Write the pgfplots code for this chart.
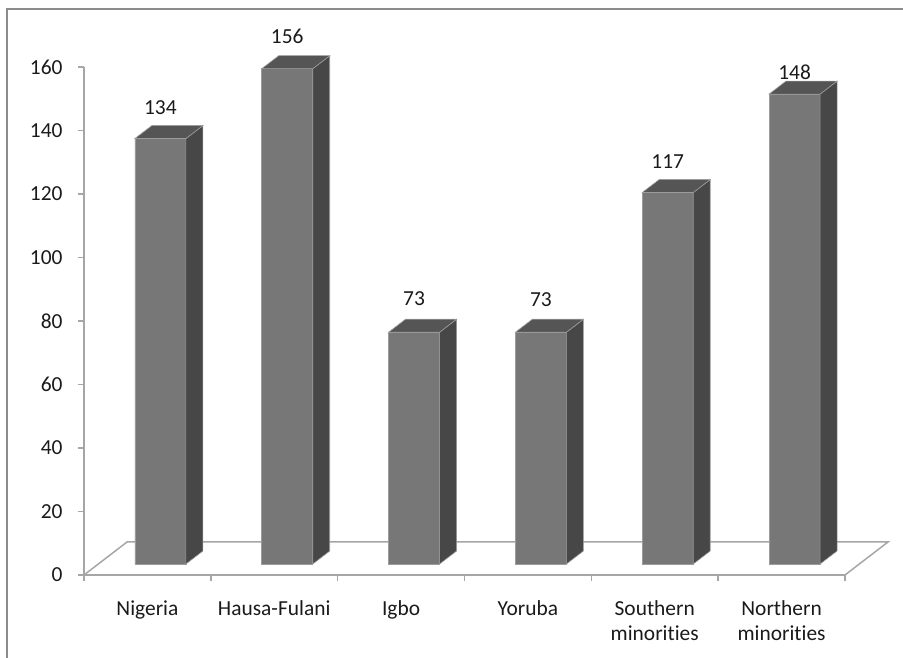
\documentclass[border=0pt]{standalone}
\usepackage{fontspec}
\setmainfont{Carlito}[Ligatures=NoCommon]
\usepackage{pgfplots}
\usepackage{pgfplotstable}
\pgfplotsset{compat=1.18}

\definecolor{axisgray}{HTML}{A6A6A6}
\definecolor{framegray}{HTML}{8C8C8C}
\definecolor{barfront}{HTML}{777777}
\definecolor{bartop}{HTML}{555555}
\definecolor{barside}{HTML}{474747}
\definecolor{baredge}{HTML}{9C9C9C}
\definecolor{labelcol}{HTML}{1A1A1A}

% category position, value, and lift of the value label above the bar (bp)
\pgfplotstableread{
x   v   ly
0.5 134 31
1.5 156 32
2.5 73  34
3.5 73  33
4.5 117 31
5.5 148 22
}\bardata

% top and side faces of a 3D column, drawn at the top centre of its front face
% (front face 51bp wide, depth offset 17bp right / 13bp up, 3.175bp per unit)
\pgfdeclareplotmark{box3d}{%
  \pgfpathmoveto{\pgfpoint{25.5bp}{0bp}}%
  \pgfpathlineto{\pgfpoint{42.5bp}{13bp}}%
  \pgfpathlineto{\pgfpoint{42.5bp}{13bp-\val*3.175bp}}%
  \pgfpathlineto{\pgfpoint{25.5bp}{-\val*3.175bp}}%
  \pgfpathclose
  \pgfsetfillcolor{barside}%
  \pgfusepath{fill,stroke}%
  \pgfpathmoveto{\pgfpoint{-25.5bp}{0bp}}%
  \pgfpathlineto{\pgfpoint{25.5bp}{0bp}}%
  \pgfpathlineto{\pgfpoint{42.5bp}{13bp}}%
  \pgfpathlineto{\pgfpoint{-8.5bp}{13bp}}%
  \pgfpathclose
  \pgfsetfillcolor{bartop}%
  \pgfusepath{fill,stroke}%
}

\pgfplotsset{
  chartbase/.style={
    x=126.83bp, y=3.175bp,
    xmin=0, xmax=6, ymin=0, ymax=160,
    enlargelimits=false, clip=false,
    anchor=south west,
    /pgf/number format/assume math mode=true,
  }
}

\begin{document}
\begin{tikzpicture}[font=\fontsize{21.5}{25}\selectfont]
\path[use as bounding box] (0,0) rectangle (903bp,658bp);
% visible edges of the chart frame
\draw[framegray, line width=2bp] (7bp,0) -- (7bp,649bp) -- (903bp,649bp);

% axes and floor
\begin{axis}[chartbase, at={(84bp,83bp)},
  axis x line=bottom, axis y line=left,
  axis line style={-, axisgray, line width=1.5bp},
  tick align=outside, major tick length=6bp,
  tick style={axisgray, line width=1.5bp},
  ytick={0,20,...,160},
  xtick={0,1,...,6}, xticklabels={,,,,,,},
  extra x ticks={0.5,1.5,...,5.5},
  extra x tick labels={Nigeria, Hausa-Fulani, Igbo, Yoruba, Southern\\minorities, Northern\\minorities},
  extra x tick style={major tick length=0pt,
    xticklabel style={align=center, yshift=-22bp}},
  yticklabel style={xshift=-12bp},
  tick label style={text=labelcol},
]
\draw[axisgray, line width=1.5bp] (axis cs:0,0) -- ++(43bp,33bp)
  -- ++(6*126.83bp,0) -- ++(-43bp,-33bp);
\end{axis}

% columns
\begin{axis}[chartbase, at={(97bp,94bp)}, hide axis]
\addplot[ybar, bar width=51bp, fill=barfront, draw=baredge, line width=0.6bp,
  visualization depends on={\thisrow{ly} \as \labshift},
  nodes near coords,
  nodes near coords style={anchor=center, yshift=\labshift bp, text=labelcol}]
  table[x=x, y=v] {\bardata};
\addplot[scatter, only marks, mark=box3d, draw=baredge, line width=0.6bp,
  scatter/@pre marker code/.code={}, scatter/@post marker code/.code={},
  visualization depends on={\thisrow{v} \as \val}]
  table[x=x, y=v] {\bardata};
\end{axis}
\end{tikzpicture}
\end{document}
